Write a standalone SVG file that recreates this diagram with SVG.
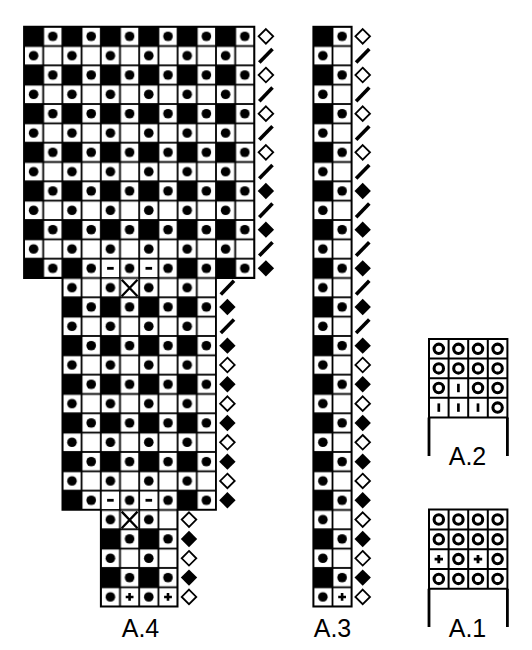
<svg xmlns="http://www.w3.org/2000/svg" xmlns:xlink="http://www.w3.org/1999/xlink" width="532" height="650" viewBox="0 0 532 650">
<style>
.lbl{font-family:"Liberation Sans",Arial,sans-serif;font-size:25px;fill:#000;text-anchor:middle}
.grid2{fill:none;stroke:#000;stroke-width:2}
.leg{fill:none;stroke:#000;stroke-width:2.8}
.wc{fill:#fff}
.xm{stroke:#000;stroke-width:2.3;fill:none}
</style>
<defs>
<pattern id="chk4" patternUnits="userSpaceOnUse" x="24" y="26.7" width="38.4" height="38.66">
<rect width="38.4" height="38.66" fill="#fff"/>
<rect width="19.2" height="19.33" fill="#000"/>
<circle cx="28.8" cy="9.665" r="4.8" fill="#000"/>
<circle cx="9.6" cy="28.995" r="4.8" fill="#000"/>
<rect x="0" y="0" width="38.4" height="0.9" fill="#000"/>
<rect x="0" y="18.43" width="38.4" height="1.8" fill="#000"/>
<rect x="0" y="37.76" width="38.4" height="0.9" fill="#000"/>
<rect x="0" y="0" width="0.9" height="38.66" fill="#000"/>
<rect x="18.3" y="0" width="1.8" height="38.66" fill="#000"/>
<rect x="37.5" y="0" width="0.9" height="38.66" fill="#000"/>
</pattern>
<pattern id="chk3" patternUnits="userSpaceOnUse" x="313.3" y="26.7" width="38.4" height="38.66">
<rect width="38.4" height="38.66" fill="#fff"/>
<rect width="19.2" height="19.33" fill="#000"/>
<circle cx="28.8" cy="9.665" r="4.8" fill="#000"/>
<circle cx="9.6" cy="28.995" r="4.8" fill="#000"/>
<rect x="0" y="0" width="38.4" height="0.9" fill="#000"/>
<rect x="0" y="18.43" width="38.4" height="1.8" fill="#000"/>
<rect x="0" y="37.76" width="38.4" height="0.9" fill="#000"/>
<rect x="0" y="0" width="0.9" height="38.66" fill="#000"/>
<rect x="18.3" y="0" width="1.8" height="38.66" fill="#000"/>
<rect x="37.5" y="0" width="0.9" height="38.66" fill="#000"/>
</pattern>
<path id="od" d="M0,-7.3 L7.3,0 L0,7.3 L-7.3,0 Z" fill="#fff" stroke="#000" stroke-width="1.8"/>
<path id="fd" d="M0,-8.2 L8.2,0 L0,8.2 L-8.2,0 Z" fill="#000"/>
<line id="sl" x1="-6.6" y1="6.8" x2="6.6" y2="-6.8" stroke="#000" stroke-width="3.6"/>
<path id="pl" d="M-3.9,0 H3.9 M0,-3.9 V3.9" stroke="#000" stroke-width="2.6" fill="none"/>
<path id="plb" d="M-4.2,0 H4.2 M0,-4.2 V4.2" stroke="#000" stroke-width="2.8" fill="none"/>
<circle id="ring" r="4.7" fill="none" stroke="#000" stroke-width="3.1"/>
<rect id="bar" x="-1.35" y="-4.2" width="2.7" height="8.4" fill="#000"/>
<rect id="dash" x="-3.3" y="-1.4" width="6.6" height="2.8" fill="#000"/>
</defs>
<rect width="532" height="650" fill="#fff"/>

<g id="A4">
<path d="M24,26.7 H254.4 V278 H216 V509.95 H177.6 V606.6 H100.8 V509.95 H62.4 V278 H24 Z" fill="url(#chk4)" stroke="#000" stroke-width="1.8"/>
<rect class="wc" x="101.7" y="259.56" width="17.4" height="17.53"/>
<rect class="wc" x="140.1" y="259.56" width="17.4" height="17.53"/>
<rect class="wc" x="101.7" y="491.52" width="17.4" height="17.53"/>
<rect class="wc" x="140.1" y="491.52" width="17.4" height="17.53"/>
<use href="#dash" x="110.4" y="268.33"/>
<use href="#dash" x="148.8" y="268.33"/>
<use href="#dash" x="110.4" y="500.29"/>
<use href="#dash" x="148.8" y="500.29"/>
<path class="xm" d="M121.7,279.7 L137.5,296.3 M137.5,279.7 L121.7,296.3"/>
<path class="xm" d="M121.7,511.65 L137.5,528.25 M137.5,511.65 L121.7,528.25"/>
<use href="#pl" x="129.6" y="596.94"/>
<use href="#pl" x="168" y="596.94"/>
<g id="A4-side">
<use href="#od" x="265.9" y="36.37"/>
<use href="#sl" x="265.9" y="55.7"/>
<use href="#od" x="265.9" y="75.03"/>
<use href="#sl" x="265.9" y="94.36"/>
<use href="#od" x="265.9" y="113.69"/>
<use href="#sl" x="265.9" y="133.02"/>
<use href="#od" x="265.9" y="152.35"/>
<use href="#sl" x="265.9" y="171.68"/>
<use href="#fd" x="265.9" y="191.01"/>
<use href="#sl" x="265.9" y="210.34"/>
<use href="#fd" x="265.9" y="229.67"/>
<use href="#sl" x="265.9" y="249"/>
<use href="#fd" x="265.9" y="268.33"/>
<use href="#sl" x="227.4" y="287.66"/>
<use href="#fd" x="227.4" y="306.99"/>
<use href="#sl" x="227.4" y="326.32"/>
<use href="#fd" x="227.4" y="345.65"/>
<use href="#od" x="227.4" y="364.98"/>
<use href="#fd" x="227.4" y="384.31"/>
<use href="#od" x="227.4" y="403.64"/>
<use href="#fd" x="227.4" y="422.97"/>
<use href="#od" x="227.4" y="442.3"/>
<use href="#fd" x="227.4" y="461.63"/>
<use href="#od" x="227.4" y="480.96"/>
<use href="#fd" x="227.4" y="500.29"/>
<use href="#od" x="189" y="519.62"/>
<use href="#fd" x="189" y="538.95"/>
<use href="#od" x="189" y="558.28"/>
<use href="#fd" x="189" y="577.61"/>
<use href="#od" x="189" y="596.94"/>
</g>
<text class="lbl" x="140.5" y="637">A.4</text>
</g>

<g id="A3">
<rect x="313.3" y="26.7" width="38.4" height="579.9" fill="url(#chk3)" stroke="#000" stroke-width="1.8"/>
<use href="#pl" x="342.1" y="596.94"/>
<g id="A3-side">
<use href="#od" x="362.7" y="36.37"/>
<use href="#sl" x="362.7" y="55.7"/>
<use href="#od" x="362.7" y="75.03"/>
<use href="#sl" x="362.7" y="94.36"/>
<use href="#od" x="362.7" y="113.69"/>
<use href="#sl" x="362.7" y="133.02"/>
<use href="#od" x="362.7" y="152.35"/>
<use href="#sl" x="362.7" y="171.68"/>
<use href="#fd" x="362.7" y="191.01"/>
<use href="#sl" x="362.7" y="210.34"/>
<use href="#fd" x="362.7" y="229.67"/>
<use href="#sl" x="362.7" y="249"/>
<use href="#fd" x="362.7" y="268.33"/>
<use href="#sl" x="362.7" y="287.66"/>
<use href="#fd" x="362.7" y="306.99"/>
<use href="#sl" x="362.7" y="326.32"/>
<use href="#fd" x="362.7" y="345.65"/>
<use href="#od" x="362.7" y="364.98"/>
<use href="#fd" x="362.7" y="384.31"/>
<use href="#od" x="362.7" y="403.64"/>
<use href="#fd" x="362.7" y="422.97"/>
<use href="#od" x="362.7" y="442.3"/>
<use href="#fd" x="362.7" y="461.63"/>
<use href="#od" x="362.7" y="480.96"/>
<use href="#fd" x="362.7" y="500.29"/>
<use href="#od" x="362.7" y="519.62"/>
<use href="#fd" x="362.7" y="538.95"/>
<use href="#od" x="362.7" y="558.28"/>
<use href="#fd" x="362.7" y="577.61"/>
<use href="#od" x="362.7" y="596.94"/>
</g>
<text class="lbl" x="332.5" y="637">A.3</text>
</g>

<g id="A2">
<path class="grid2" d="M429,339 H507.4 V417.4 H429 Z M448.6,339 V417.4 M468.2,339 V417.4 M487.8,339 V417.4 M429,358.6 H507.4 M429,378.2 H507.4 M429,397.8 H507.4"/>
<path class="leg" d="M429,417.4 V456 M507.4,417.4 V456"/>
<use href="#ring" x="438.8" y="348.8"/>
<use href="#ring" x="458.4" y="348.8"/>
<use href="#ring" x="478" y="348.8"/>
<use href="#ring" x="497.6" y="348.8"/>
<use href="#ring" x="438.8" y="368.4"/>
<use href="#ring" x="458.4" y="368.4"/>
<use href="#ring" x="478" y="368.4"/>
<use href="#ring" x="497.6" y="368.4"/>
<use href="#ring" x="438.8" y="388"/>
<use href="#bar" x="458.4" y="388"/>
<use href="#ring" x="478" y="388"/>
<use href="#ring" x="497.6" y="388"/>
<use href="#bar" x="438.8" y="407.6"/>
<use href="#bar" x="458.4" y="407.6"/>
<use href="#bar" x="478" y="407.6"/>
<use href="#ring" x="497.6" y="407.6"/>
<text class="lbl" x="467.5" y="465">A.2</text>
</g>

<g id="A1">
<path class="grid2" d="M429,509.6 H507.4 V588.8 H429 Z M448.6,509.6 V588.8 M468.2,509.6 V588.8 M487.8,509.6 V588.8 M429,529.4 H507.4 M429,549.2 H507.4 M429,569 H507.4"/>
<path class="leg" d="M429,588.8 V627 M507.4,588.8 V627"/>
<use href="#ring" x="438.8" y="519.5"/>
<use href="#ring" x="458.4" y="519.5"/>
<use href="#ring" x="478" y="519.5"/>
<use href="#ring" x="497.6" y="519.5"/>
<use href="#ring" x="438.8" y="539.3"/>
<use href="#ring" x="458.4" y="539.3"/>
<use href="#ring" x="478" y="539.3"/>
<use href="#ring" x="497.6" y="539.3"/>
<use href="#plb" x="438.8" y="559.1"/>
<use href="#ring" x="458.4" y="559.1"/>
<use href="#plb" x="478" y="559.1"/>
<use href="#ring" x="497.6" y="559.1"/>
<use href="#ring" x="438.8" y="578.9"/>
<use href="#ring" x="458.4" y="578.9"/>
<use href="#ring" x="478" y="578.9"/>
<use href="#ring" x="497.6" y="578.9"/>
<text class="lbl" x="467.5" y="637">A.1</text>
</g>
</svg>
